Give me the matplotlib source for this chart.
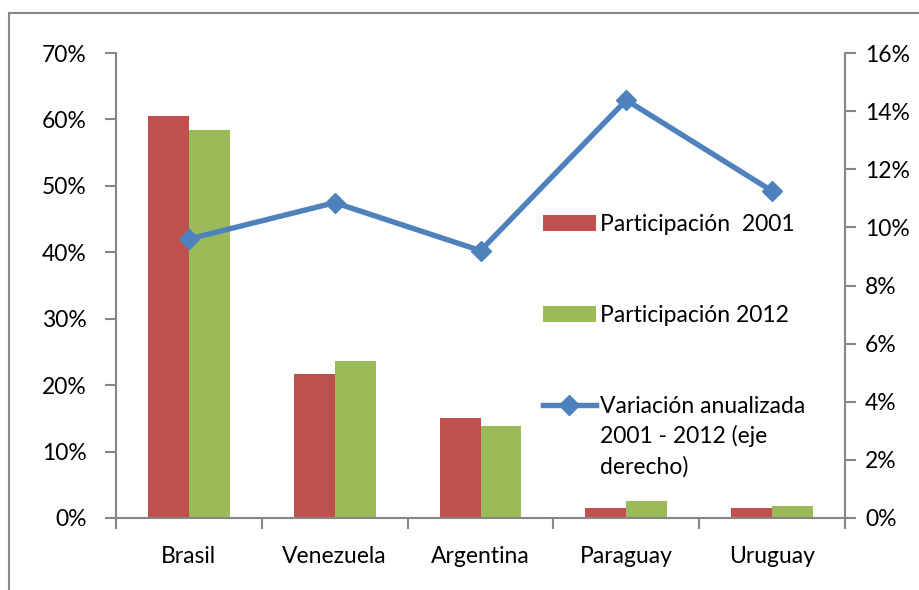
import matplotlib
matplotlib.use('Agg')
import matplotlib.pyplot as plt
import numpy as np
from matplotlib.lines import Line2D
from matplotlib.patches import Patch

# data
paises = ['Brasil', 'Venezuela', 'Argentina', 'Paraguay', 'Uruguay']
part_2001 = [60.5, 21.7, 15.0, 1.5, 1.5]
part_2012 = [58.4, 23.6, 13.8, 2.5, 1.8]
var_anual = [9.6, 10.85, 9.2, 14.38, 11.25]

left_ticks = np.arange(0, 71, 10)
right_ticks = np.arange(0, 17, 2)

ROJO = '#C0504D'
VERDE = '#9BBB59'
AZUL = '#4F81BD'
GRIS = '#868686'
FS = 16.5

plt.rcParams['font.family'] = ['Lato', 'DejaVu Sans']

W, H = 919, 590
fig = plt.figure(figsize=(W / 100, H / 100), dpi=100)
ax = fig.add_axes([116 / W, 1 - 518 / H, (845 - 116) / W, (518 - 53) / H])
ax2 = ax.twinx()

x = np.arange(len(paises))
bw = 0.28
ax.bar(x - bw / 2, part_2001, bw, color=ROJO, zorder=2)
ax.bar(x + bw / 2, part_2012, bw, color=VERDE, zorder=2)
ax2.plot(x, var_anual, color=AZUL, lw=3.9, marker='D', ms=10, zorder=3)

ax.set_xlim(-0.5, len(paises) - 0.5)
ax.set_ylim(0, 70)
ax2.set_ylim(0, 16)
ax.set_yticks(left_ticks)
ax.set_yticklabels([f'{v}%' for v in left_ticks])
ax2.set_yticks(right_ticks)
ax2.set_yticklabels([f'{v}%' for v in right_ticks])

ax.set_xticks(x)
ax.set_xticklabels(paises)
ax.set_xticks(np.arange(-0.5, len(paises)), minor=True)
ax.tick_params(axis='x', which='major', length=0, pad=20, labelsize=FS)
ax.tick_params(axis='x', which='minor', length=8, width=1.5, color=GRIS, direction='out')
ax.tick_params(axis='y', length=8, width=1.5, color=GRIS, pad=13, labelsize=FS)
ax2.tick_params(axis='y', length=8, width=1.5, color=GRIS, pad=6.5, labelsize=FS)

for a in (ax, ax2):
    a.spines['top'].set_visible(False)
    for s in ('left', 'right', 'bottom'):
        a.spines[s].set_color(GRIS)
        a.spines[s].set_linewidth(1.5)
ax.spines['right'].set_visible(False)
ax2.spines['left'].set_visible(False)
ax2.spines['bottom'].set_visible(False)

# outer chart frame (only top and left visible in the crop)
fig.add_artist(Line2D([9 / W, 1.0], [1 - 13 / H, 1 - 13 / H], transform=fig.transFigure, color=GRIS, lw=1.5))
fig.add_artist(Line2D([9 / W, 9 / W], [0, 1 - 13 / H], transform=fig.transFigure, color=GRIS, lw=1.5))

handles = [
    Patch(facecolor=ROJO),
    Patch(facecolor=VERDE),
    Line2D([], [], color=AZUL, lw=3.9, marker='D', ms=10),
]
labels = ['Participación  2001', 'Participación 2012', 'Variación anualizada']
leg = fig.legend(handles, labels, loc='upper left', bbox_to_anchor=(543 / W, 1 - 214 / H),
                 frameon=False, fontsize=FS, borderpad=0, borderaxespad=0,
                 handlelength=2.3, handletextpad=0.2, labelspacing=3.05, handleheight=0.75)

fig.canvas.draw()
bb = leg.get_texts()[2].get_window_extent()
x0, y0 = fig.transFigure.inverted().transform((bb.x0, bb.y0))
fig.text(x0, y0 - 8 / H, '2001 - 2012 (eje\nderecho)', fontsize=FS, va='top', ha='left', linespacing=1.55)

fig.savefig('out.png', dpi=100)
